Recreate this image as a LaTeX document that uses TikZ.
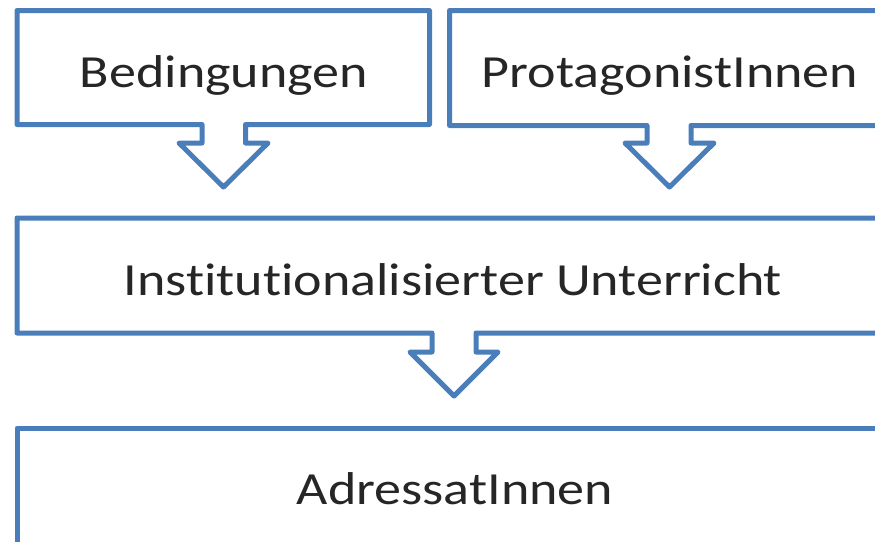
\documentclass[tikz,border=0pt]{standalone}
\usepackage{fontspec}
\setmainfont[FakeStretch=1.175,RawFeature={-liga;-clig}]{Carlito}
\definecolor{boxblue}{HTML}{4A7EBB}
\definecolor{txt}{HTML}{262626}
\tikzset{
  shapeline/.style={draw=boxblue, line width=5pt, line join=round, fill=white},
  lbl/.style={anchor=base, inner sep=0pt, text=txt, font=\fontsize{46}{50}\selectfont},
}
\begin{document}
\begin{tikzpicture}[x=1pt,y=-1pt]
\useasboundingbox (0,0) rectangle (875,541);
\clip (0,0) rectangle (875,541);
% box 1 with down arrow
\draw[shapeline] (17,10.5) -- (429.5,10.5) -- (429.5,124.5) -- (245.5,124.5) -- (245.5,143) -- (268,143) -- (223.5,187) -- (179,143) -- (202,143) -- (202,124.5) -- (17,124.5) -- cycle;
% box 2 with down arrow
\draw[shapeline] (449.5,10.5) -- (900,10.5) -- (900,125.5) -- (691,125.5) -- (691,143) -- (714,143) -- (669.5,187) -- (625,143) -- (647,143) -- (647,125.5) -- (449.5,125.5) -- cycle;
% box 3 with down arrow
\draw[shapeline] (17,218) -- (900,218) -- (900,333) -- (476,333) -- (476,352) -- (498,352) -- (454,396) -- (410,352) -- (432,352) -- (432,333) -- (17,333) -- cycle;
% box 4
\draw[shapeline] (17,428) -- (900,428) -- (900,570) -- (17,570) -- cycle;
\node[lbl] (bed) at (224,87) {Bedingungen};
\node[lbl] (pro) at (670,87) {ProtagonistInnen};
\node[lbl] (inst) at (453,295) {Institutionalisierter Unterricht};
\node[lbl] (adr) at (455,504) {AdressatInnen};
\end{tikzpicture}
\end{document}
